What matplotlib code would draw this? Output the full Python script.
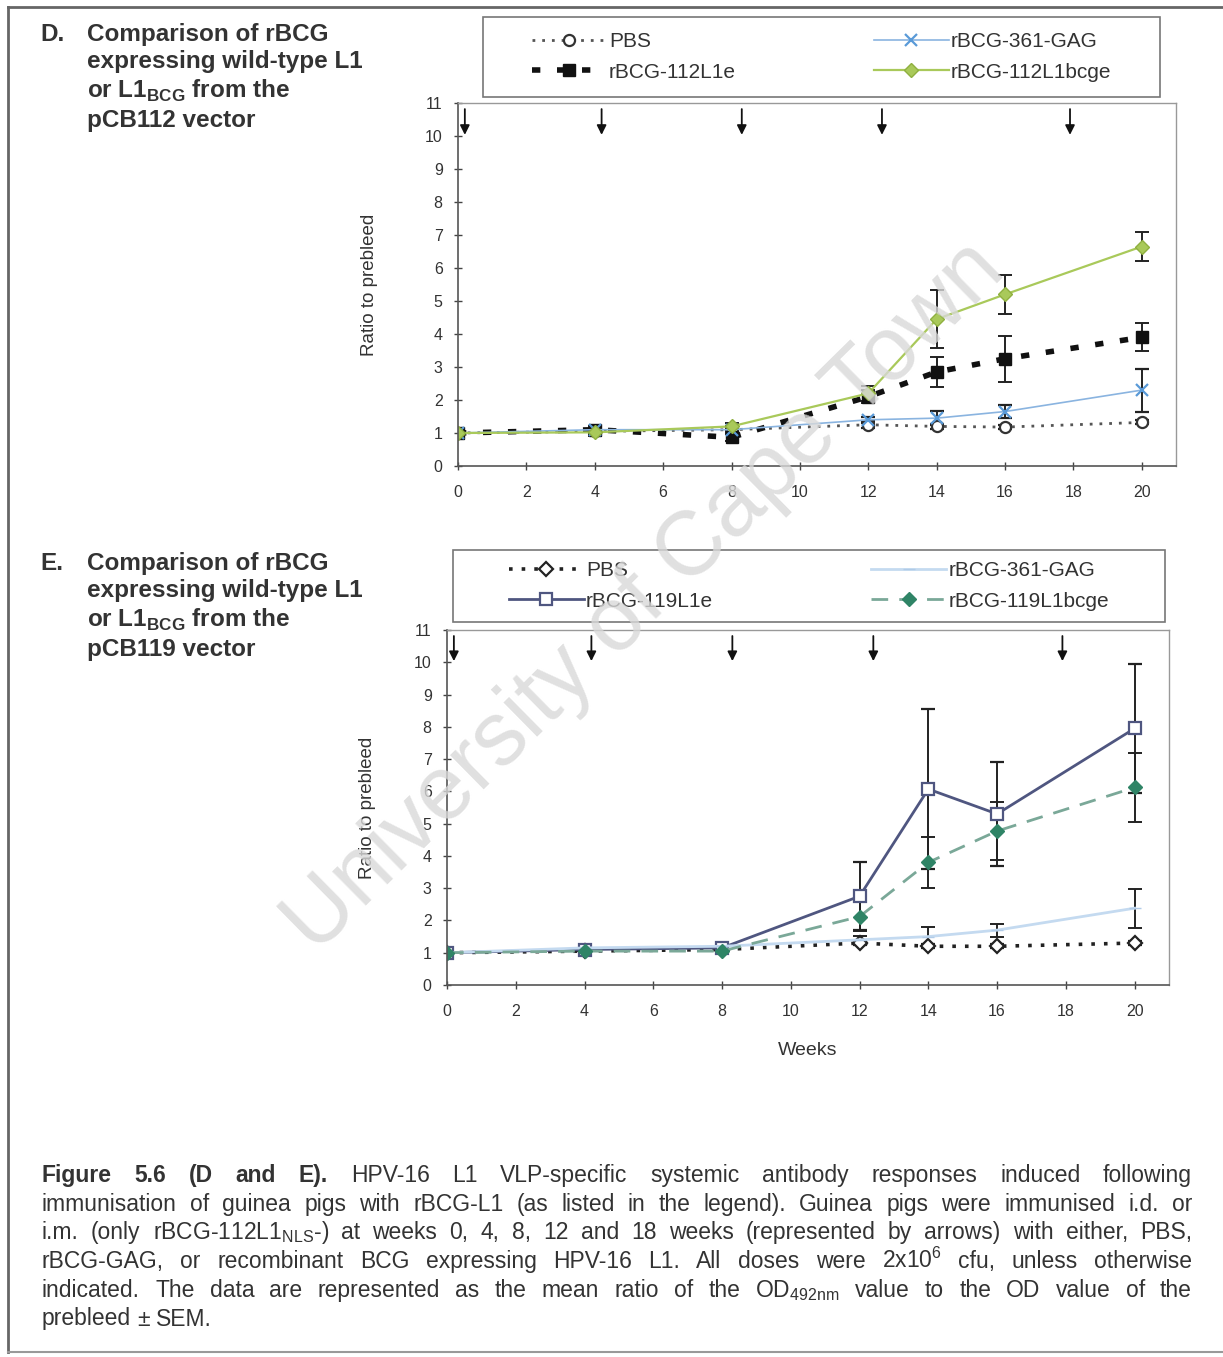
import matplotlib
matplotlib.use("Agg")
import matplotlib.pyplot as plt
from matplotlib.lines import Line2D
from matplotlib.patches import Rectangle

plt.rcParams['font.family'] = ['Liberation Sans', 'DejaVu Sans']
plt.rcParams['mathtext.fontset'] = 'custom'
plt.rcParams['mathtext.rm'] = 'Liberation Sans'
plt.rcParams['mathtext.bf'] = 'Liberation Sans:bold'

# sampling weeks
weeks = [0, 4, 8, 12, 14, 16, 20]
# immunisation arrows
arrow_weeks = [0.2, 4.2, 8.3, 12.4, 17.9]

# panel D (pCB112 vector)
pbs_d = [1.0, 1.05, 1.1, 1.25, 1.2, 1.18, 1.32]
pbs_d_err = [0.0, 0.05, 0.05, 0.1, 0.08, 0.06, 0.06]
gag_d = [1.0, 1.1, 1.1, 1.4, 1.45, 1.65, 2.3]
gag_d_err = [0.0, 0.08, 0.1, 0.1, 0.22, 0.2, 0.65]
l1e_d = [1.0, 1.1, 0.87, 2.1, 2.85, 3.25, 3.9]
l1e_d_err = [0.0, 0.12, 0.1, 0.2, 0.45, 0.7, 0.43]
bcge_d = [1.0, 1.02, 1.2, 2.2, 4.45, 5.2, 6.65]
bcge_d_err = [0.0, 0.1, 0.1, 0.22, 0.88, 0.6, 0.45]

# panel E (pCB119 vector)
pbs_e = [1.0, 1.05, 1.1, 1.3, 1.2, 1.2, 1.3]
pbs_e_err = [0.0, 0.05, 0.05, 0.06, 0.06, 0.06, 0.06]
gag_e = [1.0, 1.15, 1.2, 1.4, 1.5, 1.7, 2.38]
gag_e_err = [0.0, 0.1, 0.1, 0.12, 0.3, 0.2, 0.6]
l1e_e = [1.0, 1.1, 1.15, 2.75, 6.07, 5.3, 7.95]
l1e_e_err = [0.0, 0.1, 0.12, 1.05, 2.48, 1.6, 2.0]
bcge_e = [1.0, 1.05, 1.05, 2.12, 3.8, 4.77, 6.12]
bcge_e_err = [0.0, 0.15, 0.1, 0.45, 0.78, 0.9, 1.08]

labels_d = ['PBS', 'rBCG-112L1e', 'rBCG-361-GAG', 'rBCG-112L1bcge']
labels_e = ['PBS', 'rBCG-119L1e', 'rBCG-361-GAG', 'rBCG-119L1bcge']

txt = '#333333'
W, H = 1223, 1357
fig = plt.figure(figsize=(W / 100, H / 100), dpi=100, facecolor='white')


def px_box(x0, y0, x1, y1):
    # pixel box (top-left origin) -> figure fraction rect
    return [x0 / W, 1 - y1 / H, (x1 - x0) / W, (y1 - y0) / H]


def panel(rect, series, ypad):
    ax = fig.add_axes(rect)
    handles = []
    for y, err, style in series:
        h = ax.errorbar(weeks, y, yerr=err, ecolor='#222222', elinewidth=1.4,
                        capsize=5, capthick=1.4, **style)
        handles.append(h[0])
    ax.set_xlim(0, 21)
    ax.set_ylim(0, 11)
    ax.set_xticks(range(0, 21, 2))
    ax.set_yticks(range(0, 12))
    ax.tick_params(direction='inout', length=6, width=1, labelsize=11.5,
                   colors='#444444', labelcolor=txt)
    ax.tick_params(axis='x', pad=11)
    ax.tick_params(axis='y', pad=8)
    for s in ['left', 'bottom']:
        ax.spines[s].set_color('#555555')
        ax.spines[s].set_linewidth(1.2)
    for s in ['top', 'right']:
        ax.spines[s].set_color('#999999')
        ax.spines[s].set_linewidth(1.0)
    ax.set_ylabel('Ratio to prebleed', fontsize=13.5, color=txt, labelpad=ypad)
    # immunisation arrows
    for xa in arrow_weeks:
        ax.annotate('', xy=(xa, 9.95), xytext=(xa, 10.9),
                    arrowprops=dict(arrowstyle='-|>', color='#111111', lw=1.3,
                                    mutation_scale=14))
    return ax, handles


# panel D
ax_d, h_d = panel(px_box(458, 103, 1176, 466), [
    (pbs_d, pbs_d_err, dict(color='#555555', ls=(0, (1, 2.5)), lw=2, marker='o',
                            ms=8, mfc='white', mec='#333333', mew=1.6)),
    (l1e_d, l1e_d_err, dict(color='#111111', ls=(0, (1.5, 3)), lw=4, marker='s',
                            ms=9, mfc='#111111', mec='#111111')),
    (gag_d, gag_d_err, dict(color='#8ab4e0', ls='-', lw=1.2, marker='x',
                            ms=8, mec='#5a9ad8', mew=1.6)),
    (bcge_d, bcge_d_err, dict(color='#a9c95a', ls='-', lw=1.6, marker='D',
                              ms=7, mfc='#a9c95a', mec='#8fb040')),
], ypad=34)

# panel E
ax_e, h_e = panel(px_box(447, 630, 1169, 985), [
    (pbs_e, pbs_e_err, dict(color='#222222', ls=(0, (1, 2.5)), lw=2.6, marker='D',
                            ms=7, mfc='white', mec='#222222', mew=1.6)),
    (l1e_e, l1e_e_err, dict(color='#4f5680', ls='-', lw=2, marker='s',
                            ms=9, mfc='white', mec='#4f5680', mew=1.6)),
    (gag_e, gag_e_err, dict(color='#c4daf0', ls='-', lw=2, marker='_',
                            ms=8, mec='#b0cbe8')),
    (bcge_e, bcge_e_err, dict(color='#7aa898', ls=(0, (6, 4)), lw=2, marker='D',
                              ms=7, mfc='#2f8466', mec='#2f8466')),
], ypad=27)
ax_e.set_xlabel('Weeks', fontsize=14, color=txt, labelpad=16)

# legends: two columns inside a drawn box
for handles, labels, box, colsp in [(h_d, labels_d, (483, 17, 1160, 97), 6.6),
                                    (h_e, labels_e, (453, 550, 1165, 622), 7.6)]:
    x0, y0, x1, y1 = box
    leg = fig.legend(handles, labels, loc='center',
                     bbox_to_anchor=((x0 + x1) / 2 / W, 1 - (y0 + y1) / 2 / H),
                     ncol=2, fontsize=15, frameon=False, handlelength=3.6,
                     labelspacing=0.55, handletextpad=0.1, columnspacing=colsp,
                     borderaxespad=0, borderpad=0)
    for t in leg.get_texts():
        t.set_color(txt)
    fig.add_artist(Rectangle((x0 / W, 1 - y1 / H), (x1 - x0) / W, (y1 - y0) / H,
                             transform=fig.transFigure, fill=False,
                             edgecolor='#777777', lw=1.2))

# panel headings
heading = 'Comparison of rBCG\nexpressing wild-type L1\nor L1$_{\\mathbf{BCG}}$ from the\n{} vector'
for letter, vec, ytop in [('D.', 'pCB112', 23), ('E.', 'pCB119', 552)]:
    fig.text(40 / W, 1 - ytop / H, letter, fontsize=17.5, fontweight='bold', color=txt, va='top')
    fig.text(87 / W, 1 - ytop / H, heading.replace('{}', vec),
             fontsize=17.5, fontweight='bold', color=txt, va='top', linespacing=1.24)

# caption, justified line by line
caption = [
    ['*Figure', '*5.6', '*(D', '*and', '*E).', 'HPV-16', 'L1', 'VLP-specific', 'systemic',
     'antibody', 'responses', 'induced', 'following'],
    ['immunisation', 'of', 'guinea', 'pigs', 'with', 'rBCG-L1', '(as', 'listed', 'in', 'the',
     'legend).', 'Guinea', 'pigs', 'were', 'immunised', 'i.d.', 'or'],
    ['i.m.', '(only', 'rBCG-112L1$_{\\mathrm{NLS}}$-)', 'at', 'weeks', '0,', '4,', '8,', '12',
     'and', '18', 'weeks', '(represented', 'by', 'arrows)', 'with', 'either,', 'PBS,'],
    ['rBCG-GAG,', 'or', 'recombinant', 'BCG', 'expressing', 'HPV-16', 'L1.', 'All', 'doses',
     'were', '2x10$^{6}$', 'cfu,', 'unless', 'otherwise'],
    ['indicated.', 'The', 'data', 'are', 'represented', 'as', 'the', 'mean', 'ratio', 'of',
     'the', 'OD$_{\\mathrm{492nm}}$', 'value', 'to', 'the', 'OD', 'value', 'of', 'the'],
    ['prebleed', '±', 'SEM.'],
]
renderer = fig.canvas.get_renderer()
x_left, x_right = 42, 1192
for i, words in enumerate(caption):
    ypix = 1182 + i * 28.7
    items = []
    for w in words:
        bold = w.startswith('*')
        t = fig.text(0, 1 - ypix / H, w.lstrip('*'), fontsize=16.5, color=txt,
                     fontweight='bold' if bold else 'normal', va='baseline')
        items.append((t, t.get_window_extent(renderer).width))
    total = sum(wd for _, wd in items)
    if i < len(caption) - 1:
        gap = (x_right - x_left - total) / (len(items) - 1)
    else:
        gap = 6
    x = x_left
    for t, wd in items:
        t.set_x(x / W)
        x += wd + gap

# page border
fig.add_artist(Line2D([8 / W, 1], [1 - 7 / H, 1 - 7 / H], color='#666666', lw=2))
fig.add_artist(Line2D([8 / W, 8 / W], [1 - 7 / H, 1 - 1352 / H], color='#666666', lw=2))
fig.add_artist(Line2D([8 / W, 1], [1 - 1352 / H, 1 - 1352 / H], color='#999999', lw=1.5))

# watermark
fig.text(645 / W, 1 - 598 / H, 'University of Cape Town', fontsize=65, rotation=44.6,
         color='#d9d9d9', alpha=0.8, ha='center', va='center', zorder=10)

fig.savefig('out.png', dpi=100)
